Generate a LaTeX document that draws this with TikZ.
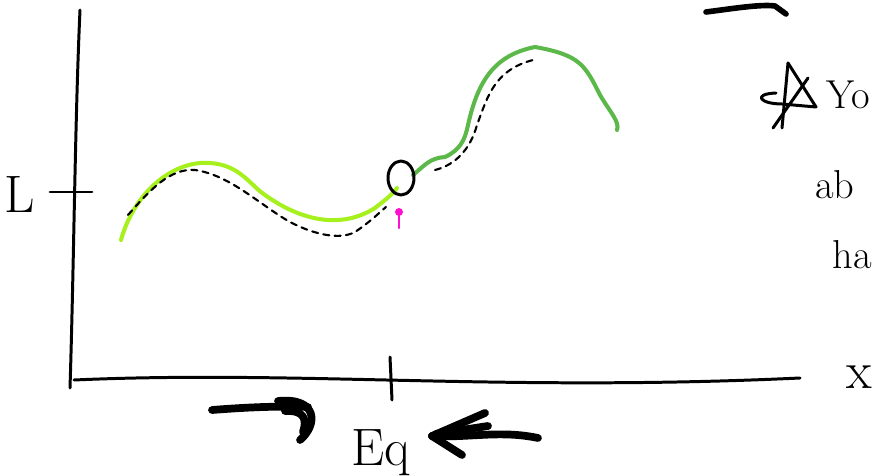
\documentclass[tikz,border=0pt]{standalone}
\usepackage{fontspec}
\usepackage{xcolor}
\usetikzlibrary{arrows.meta}

\definecolor{verdechiaro}{HTML}{A6F01E}
\definecolor{verdescuro}{HTML}{5DB84A}
\definecolor{magenta}{HTML}{FF10D0}

\begin{document}
\begin{tikzpicture}[x=0.02cm, y=-0.02cm, line cap=round, line join=round,
    assi/.style={line width=1.7pt},
    curva/.style={line width=2.3pt},
    traccia/.style={line width=1.2pt, dash pattern=on 3.5pt off 3pt},
    freccia/.style={line width=4.4pt},
    scritta/.style={font=\fontsize{30}{34}\selectfont, inner sep=0pt},
    nota/.style={font=\fontsize{23}{28}\selectfont, inner sep=0pt, anchor=west}]

\useasboundingbox (0,0) rectangle (875,476);

% Assi
\draw[assi] (80,10) .. controls (75,120) and (74,260) .. (70,388);
\draw[assi] (74,380) .. controls (300,370) and (500,392) .. (800,378);

% Tacche
\draw[assi] (50,192) -- (92,192);
\draw[assi] (390,357) -- (392,400);
\node[scritta] (L) at (20,195) {L};
\node[scritta] (eq) at (381,453) {Eq};
\node[scritta, anchor=west] (x) at (846,377) {x};

% Curva verde chiaro
\draw[curva, verdechiaro] (121,240)
    .. controls (135,190) and (175,160) .. (210,163)
    .. controls (240,165) and (250,185) .. (265,195)
    .. controls (300,220) and (340,230) .. (375,208)
    .. controls (385,200) and (392,195) .. (397,188);

% Curva verde scuro
\draw[curva, verdescuro] (413,175)
    .. controls (425,165) and (430,158) .. (445,157)
    .. controls (460,150) and (465,140) .. (468,125)
    .. controls (478,80) and (495,55) .. (535,47)
    .. controls (580,55) and (585,65) .. (600,95)
    .. controls (610,112) and (620,122) .. (617,130);

% Tracce tratteggiate
\draw[traccia] (128,215)
    .. controls (150,190) and (170,168) .. (195,170)
    .. controls (230,175) and (260,205) .. (290,222)
    .. controls (315,235) and (340,240) .. (355,232)
    .. controls (370,222) and (380,212) .. (386,207);
\draw[traccia] (435,170)
    .. controls (455,165) and (470,150) .. (477,125)
    .. controls (488,95) and (495,70) .. (533,60);

% Punto di equilibrio
\draw[line width=1.7pt] (401,178) ellipse (13 and 17);
\draw[line width=1.2pt, magenta] (399,228) -- (399,211);
\fill[magenta] (399,212) circle (4);

% Frecce verso Eq
\draw[freccia] (212,410) .. controls (250,407) and (280,406) .. (308,407);
\draw[freccia] (278,401) .. controls (318,397) and (318,425) .. (300,440);
\draw[freccia] (285,411) .. controls (305,410) and (307,420) .. (303,432);
\draw[freccia] (432,436) .. controls (470,438) and (500,430) .. (538,438);
\draw[freccia] (432,436) -- (485,413);
\draw[freccia] (436,434) -- (488,426);
\draw[freccia] (432,436) -- (462,455);

% Nota a destra
\draw[line width=3.2pt] (706,12) .. controls (730,9) and (760,4) .. (775,6) -- (786,14);
\draw[line width=1.7pt] (788,63) -- (782,128);
\draw[line width=1.7pt] (788,63) -- (816,107) -- (782,104)
    .. controls (760,104) and (752,94) .. (776,93);
\draw[line width=1.7pt] (808,78) -- (773,128);
\node[nota] (yo) at (826,95) {Yo};
\node[nota] (ab) at (815,185) {ab};
\node[nota] (ha) at (832,255) {ha};

\end{tikzpicture}
\end{document}
